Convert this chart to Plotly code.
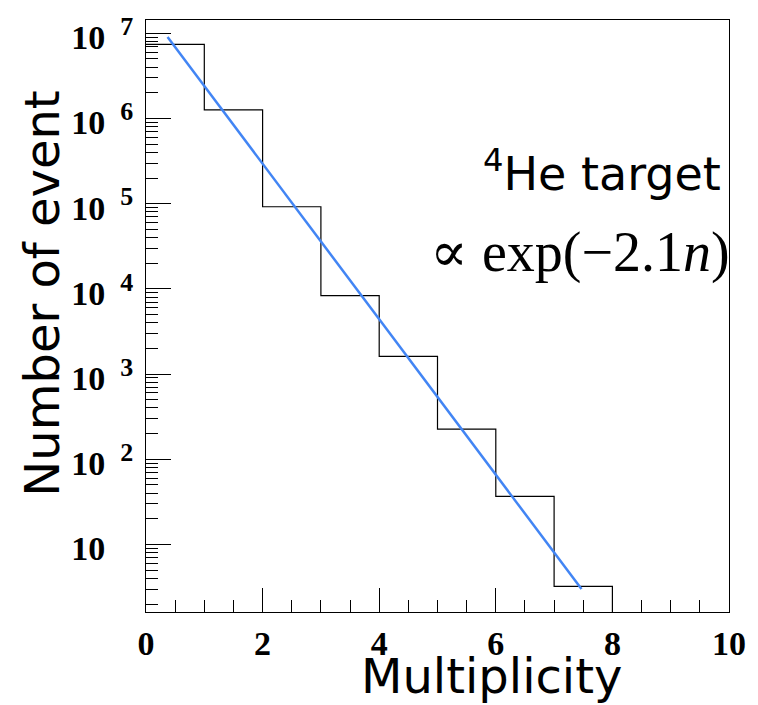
import plotly.graph_objects as go

# ---- data ----
bin_edges = [0, 1, 2, 3, 4, 5, 6, 7, 8, 9, 10]
counts = [7.43e6, 1.26e6, 9.2e4, 8.34e3, 1.61e3, 226, 36.6, 3.23, 0, 0]
fit_x = [0.37, 7.47]
fit_y = [9.06e6, 3.0]
x_tick_vals = [0, 2, 4, 6, 8, 10]
x_tick_text = ["0", "2", "4", "6", "8", "10"]
y_exponents = [1, 2, 3, 4, 5, 6, 7]

# axis ranges (log10 for y)
x_range = [0, 10]
y_range = [0.2075, 7.156]

# ---- derived: step outline, dropping to the axis floor after the last filled bin ----
floor_val = 10 ** y_range[0]
last = max(i for i, c in enumerate(counts) if c > 0)
step_x = bin_edges[:last + 2]
step_y = counts[:last + 1] + [floor_val]

NB = "\u00a0"
y_tick_vals = [10 ** e for e in y_exponents]
y_tick_text = []
for e in y_exponents:
    if e == 1:
        y_tick_text.append("10" + NB + "<sup><span style='font-size:26px;color:rgba(0,0,0,0)'>"
                           + NB + "1</span></sup>")
    else:
        y_tick_text.append("10" + NB + "<sup><span style='font-size:26px'>" + NB + str(e)
                           + "</span></sup>")

W, H = 758, 705
L, R, T, B = 146.3, 18.7, 19, 93.3
pw, ph = W - L - R, H - T - B


def px(x):
    return (x - L) / pw


def py(y):
    return (H - B - y) / ph


fig = go.Figure()
fig.add_trace(go.Scatter(x=step_x, y=step_y, mode="lines",
                         line=dict(color="black", width=1.2, shape="hv"),
                         showlegend=False, hoverinfo="skip"))
fig.add_trace(go.Scatter(x=fit_x, y=fit_y, mode="lines",
                         line=dict(color="#4285f4", width=2.5),
                         showlegend=False, hoverinfo="skip"))

tick_font = dict(family="Liberation Serif, Times New Roman, serif", size=34,
                 color="black", weight="bold")

fig.update_layout(
    width=W, height=H,
    margin=dict(l=L, r=R, t=T, b=B, pad=0),
    paper_bgcolor="white", plot_bgcolor="white",
    showlegend=False,
    xaxis=dict(range=x_range, tickmode="array", tickvals=x_tick_vals, ticktext=x_tick_text,
               ticks="inside", ticklen=24, tickwidth=1, tickcolor="black",
               minor=dict(ticks="inside", ticklen=12, tickwidth=1, tickcolor="black",
                          dtick=0.5, tick0=0, showgrid=False),
               showgrid=False, zeroline=False, showline=True, mirror=True,
               linecolor="black", linewidth=1, tickfont=tick_font,
               ticklabelstandoff=1),
    yaxis=dict(type="log", range=y_range, tickmode="array", tickvals=y_tick_vals,
               ticktext=y_tick_text,
               ticks="inside", ticklen=25, tickwidth=1, tickcolor="black",
               minor=dict(ticks="inside", ticklen=12, tickwidth=1, tickcolor="black",
                          dtick="D1", showgrid=False),
               showgrid=False, zeroline=False, showline=True, mirror=True,
               linecolor="black", linewidth=1, tickfont=tick_font,
               ticklabelstandoff=5, ticklabelshift=4),
)

sans = "DejaVu Sans, Verdana, sans-serif"
serif = "Liberation Serif, DejaVu Serif, serif"

fig.add_annotation(text="Number of event", xref="paper", yref="paper",
                   x=px(41), y=py(292.5), textangle=-90, showarrow=False,
                   xanchor="center", yanchor="middle",
                   font=dict(family=sans, size=48, color="black"))
fig.add_annotation(text="Multiplicity", xref="paper", yref="paper",
                   x=px(498), y=py(676), showarrow=False,
                   xanchor="center", yanchor="middle",
                   font=dict(family=sans, size=48, color="black"))
fig.add_annotation(text="<sup>4</sup>He target", xref="paper", yref="paper",
                   x=px(733), y=py(170), showarrow=False,
                   xanchor="right", yanchor="middle",
                   font=dict(family=sans, size=46, color="black"))
fig.add_annotation(text="\u221d exp(\u22122.1<i>n</i>)", xref="paper", yref="paper",
                   x=px(742), y=py(252), showarrow=False,
                   xanchor="right", yanchor="middle",
                   font=dict(family=serif, size=56, color="black"))

fig.write_html("out.html")
